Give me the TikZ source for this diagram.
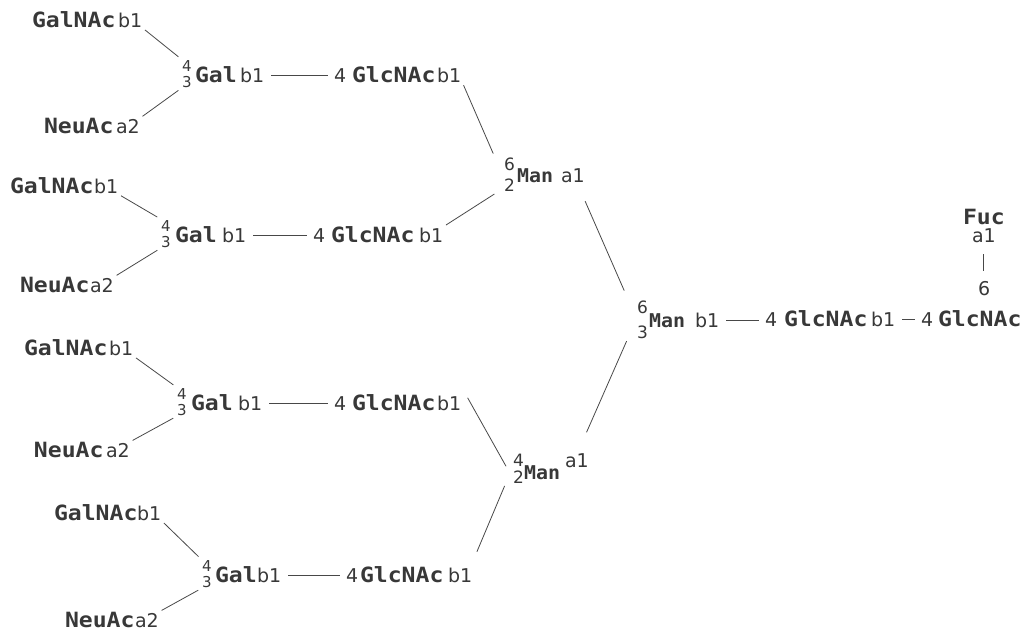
\documentclass[tikz,border=0pt]{standalone}
\usepackage{fontspec}
\newfontfamily\sugfont[FakeStretch=1.1]{DejaVu Sans Mono}
\newfontfamily\manfont[FakeStretch=1.05]{DejaVu Sans Mono}
\newfontfamily\lnkfont{DejaVu Sans}
\definecolor{ink}{HTML}{383838}
\definecolor{bondink}{HTML}{484848}
\tikzset{
  sugar/.style={anchor=base west, inner sep=0pt, outer sep=2pt, text=ink,
    font=\sugfont\bfseries\fontsize{21}{21}\selectfont},
  manres/.style={sugar, font=\manfont\bfseries\fontsize{19}{19}\selectfont},
  link/.style={anchor=base west, inner sep=0pt, outer sep=2pt, text=ink,
    font=\lnkfont\fontsize{19}{19}\selectfont},
  posn/.style={link, font=\lnkfont\fontsize{15}{15}\selectfont},
  mposn/.style={link, font=\lnkfont\fontsize{17}{17}\selectfont},
  bond/.style={draw=bondink, line width=0.8pt, shorten <=1pt, shorten >=2pt},
  hbond/.style={draw=bondink, line width=0.8pt, shorten <=5pt, shorten >=4pt},
}
\begin{document}
\begin{tikzpicture}[x=1pt,y=-1pt]
\useasboundingbox (0,0) rectangle (1029,632);

% ---------- antenna 1 ----------
\node[sugar] (gn1) at (30,27) {GalNAc};
\node[link]  (gn1b) at (116,27) {b1};
\node[sugar] (ne1) at (42,133) {NeuAc};
\node[link]  (ne1a) at (114,133) {a2};
\node[posn]  (ga1p4) at (180,71) {4};
\node[posn]  (ga1p3) at (180,87) {3};
\node[sugar] (ga1) at (193,82) {Gal};
\node[link]  (ga1b) at (238,82) {b1};
\node[link]  (gl1p) at (332,82) {4};
\node[sugar] (gl1) at (350,82) {GlcNAc};
\node[link]  (gl1b) at (435,82) {b1};

% ---------- antenna 2 ----------
\node[sugar] (gn2) at (8,193) {GalNAc};
\node[link]  (gn2b) at (92,193) {b1};
\node[sugar] (ne2) at (18,292) {NeuAc};
\node[link]  (ne2a) at (88,292) {a2};
\node[posn]  (ga2p4) at (159,231) {4};
\node[posn]  (ga2p3) at (159,247) {3};
\node[sugar] (ga2) at (173,242) {Gal};
\node[link]  (ga2b) at (220,242) {b1};
\node[link]  (gl2p) at (311,242) {4};
\node[sugar] (gl2) at (329,242) {GlcNAc};
\node[link]  (gl2b) at (417,242) {b1};

% ---------- antenna 3 ----------
\node[sugar] (gn3) at (22,355) {GalNAc};
\node[link]  (gn3b) at (107,355) {b1};
\node[sugar] (ne3) at (32,457) {NeuAc};
\node[link]  (ne3a) at (104,457) {a2};
\node[posn]  (ga3p4) at (175,399) {4};
\node[posn]  (ga3p3) at (175,415) {3};
\node[sugar] (ga3) at (189,410) {Gal};
\node[link]  (ga3b) at (236,410) {b1};
\node[link]  (gl3p) at (332,410) {4};
\node[sugar] (gl3) at (350,410) {GlcNAc};
\node[link]  (gl3b) at (435,410) {b1};

% ---------- antenna 4 ----------
\node[sugar] (gn4) at (52,520) {GalNAc};
\node[link]  (gn4b) at (135,520) {b1};
\node[sugar] (ne4) at (63,627) {NeuAc};
\node[link]  (ne4a) at (133,627) {a2};
\node[posn]  (ga4p4) at (200,571) {4};
\node[posn]  (ga4p3) at (200,587) {3};
\node[sugar] (ga4) at (213,582) {Gal};
\node[link]  (ga4b) at (255,582) {b1};
\node[link]  (gl4p) at (344,582) {4};
\node[sugar] (gl4) at (358,582) {GlcNAc};
\node[link]  (gl4b) at (446,582) {b1};

% ---------- mannose branch points ----------
\node[mposn]  (m1p6) at (502,170) {6};
\node[mposn]  (m1p2) at (502,191) {2};
\node[manres] (m1) at (515,182) {Man};
\node[link]   (m1a) at (559,182) {a1};

\node[mposn]  (m2p4) at (511,466) {4};
\node[mposn]  (m2p2) at (511,483) {2};
\node[manres] (m2) at (522,479) {Man};
\node[link]   (m2a) at (563,467) {a1};

\node[mposn]  (mcp6) at (635,313) {6};
\node[mposn]  (mcp3) at (635,338) {3};
\node[manres] (mc) at (647,327) {Man};
\node[link]   (mcb) at (693,327) {b1};

% ---------- chitobiose core and fucose ----------
\node[link]  (c1p) at (763,326) {4};
\node[sugar] (c1) at (782,326) {GlcNAc};
\node[link]  (c1b) at (869,326) {b1};
\node[link]  (c2p) at (919,326) {4};
\node[sugar] (c2) at (936,326) {GlcNAc};
\node[sugar] (fuc) at (961,224) {Fuc};
\node[link]  (fuca) at (970,242) {a1};
\node[link]  (c2p6) at (976,295) {6};

% ---------- bonds: antennae ----------
\foreach \i in {1,2,3,4}{
  \draw[bond] (gn\i b.south east) -- (ga\i p4.north west);
  \draw[bond] (ne\i a.north east) -- (ga\i p3.south west);
  \draw[hbond] (ga\i b.east) -- (ga\i b.east -| gl\i p.west);
}

% ---------- bonds: GlcNAc to mannose ----------
\draw[bond] (gl1b.south east) -- ([xshift=-8pt]m1p6.north west);
\draw[bond] (gl2b.north east) -- ([xshift=-6pt]m1p2.south west);
\draw[bond] ([xshift=4pt,yshift=6pt]gl3b.east) -- ([xshift=-4pt]m2p4.south west);
\draw[bond] ([xshift=-6pt]m2p2.south west) -- ([xshift=2pt,yshift=12pt]gl4b.north east);

% ---------- bonds: mannose to core ----------
\draw[bond] ([xshift=-2pt,yshift=-16pt]m1a.south east) -- ([xshift=-10pt,yshift=6pt]mcp6.north west);
\draw[bond] ([xshift=-8pt]mcp3.south west) -- ([xshift=-5pt,yshift=17pt]m2a.north east);
\draw[hbond] (mcb.east) -- (mcb.east -| c1p.west);
\draw[hbond] (c1b.east) -- (c1b.east -| c2p.west);
\draw[draw=bondink, line width=0.8pt, shorten <=10pt, shorten >=8pt] (fuca.south) -- (fuca.south |- c2p6.north);
\end{tikzpicture}
\end{document}
